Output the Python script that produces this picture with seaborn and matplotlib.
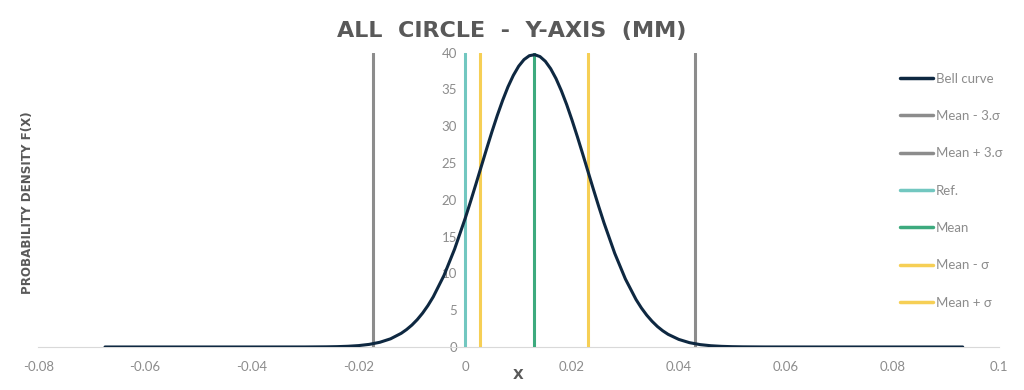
import numpy as np
import pandas as pd
import matplotlib
matplotlib.use('Agg')
import matplotlib.pyplot as plt
import seaborn as sns

# ── Data ───────────────────────────────────────────────
curve_x = [-0.0675, -0.04, -0.03, -0.026, -0.024, -0.022, -0.020, -0.018,
           -0.016, -0.014, -0.012, -0.011, -0.010, -0.009, -0.008, -0.007,
           -0.006, -0.004, -0.002, 0.000, 0.001, 0.002, 0.003, 0.004, 0.005,
           0.006, 0.007, 0.008, 0.009, 0.010, 0.011, 0.012, 0.013, 0.014,
           0.015, 0.016, 0.017, 0.018, 0.019, 0.020, 0.021, 0.022, 0.023,
           0.024, 0.025, 0.026, 0.028, 0.030, 0.032, 0.033, 0.034, 0.035,
           0.036, 0.037, 0.038, 0.040, 0.042, 0.044, 0.046, 0.048, 0.050,
           0.052, 0.056, 0.066, 0.0932]
curve_y = [0.0, 0.0, 0.004, 0.022, 0.047, 0.096, 0.188, 0.354,
           0.641, 1.11, 1.86, 2.37, 2.98, 3.72, 4.60, 5.63,
           6.82, 9.71, 13.31, 17.52, 19.80, 22.16, 24.55, 26.94, 29.27,
           31.48, 33.52, 35.36, 36.91, 38.16, 39.06, 39.59, 39.73, 39.47,
           38.83, 37.82, 36.48, 34.83, 32.94, 30.83, 28.58, 26.23, 23.83,
           21.44, 19.10, 16.85, 12.73, 9.24, 6.44, 5.30, 4.32, 3.49,
           2.78, 2.20, 1.72, 1.03, 0.587, 0.323, 0.171, 0.087, 0.042,
           0.020, 0.004, 0.0, 0.0]

line_names  = ['Mean - 3.σ', 'Mean + 3.σ', 'Ref.', 'Mean', 'Mean - σ', 'Mean + σ']
line_x      = [-0.01735, 0.04298, 0.0, 0.01285, 0.00275, 0.02293]
line_top    = 40
line_colors = ['#8c8c8c', '#8c8c8c', '#72c7c0', '#3daa7e', '#f6cf55', '#f6cf55']

x_ticks = [-0.08, -0.06, -0.04, -0.02, 0, 0.02, 0.04, 0.06, 0.08, 0.1]
x_tick_labels = ['-0.08', '-0.06', '-0.04', '-0.02', '0', '0.02', '0.04', '0.06', '0.08', '0.1']
y_ticks = [0, 5, 10, 15, 20, 25, 30, 35, 40]

# ── Style ──────────────────────────────────────────────
sns.set_style('white')
plt.rcParams['font.family'] = ['Lato', 'DejaVu Sans']
bold_font = ['DejaVu Sans']

fig = plt.figure(figsize=(10.24, 3.90), dpi=100)
ax = fig.add_axes([0.0374, 0.1103, 0.9382, 0.7546])

df = pd.DataFrame({'x': curve_x, 'y': curve_y})
sns.lineplot(data=df, x='x', y='y', ax=ax, color='#0e2841', lw=2.2,
             estimator=None, sort=False, label='Bell curve', zorder=5)
ax.get_lines()[0].set_solid_joinstyle('round')

for name, xv, col in zip(line_names, line_x, line_colors):
    ax.plot([xv, xv], [0, line_top], color=col, lw=2.2, label=name, zorder=4)

ax.set_xlim(-0.08, 0.1)
ax.set_ylim(0, 40)
ax.set_xticks(x_ticks)
ax.set_xticklabels(x_tick_labels)
ax.set_yticks(y_ticks)

for s in ['top', 'right']:
    ax.spines[s].set_visible(False)
ax.spines['left'].set_position(('data', 0))
ax.spines['left'].set_color('#d9d9d9')
ax.spines['bottom'].set_color('#d9d9d9')
ax.tick_params(axis='x', colors='#8c8c8c', labelsize=9.5, length=4,
               color='#d9d9d9', direction='out', pad=6)
ax.tick_params(axis='y', colors='#8c8c8c', labelsize=9.5, length=4,
               color='#d9d9d9', direction='out', pad=2)

ax.set_xlabel('')
ax.set_ylabel('')
fig.text(0.506, 0.038, 'X', ha='center', va='center', fontsize=10,
         fontweight='bold', color='#595959', family=bold_font)
fig.text(0.027, 0.48, 'PROBABILITY DENSITY F(X)', rotation=90, ha='center',
         va='center', fontsize=8.6, fontweight='bold', color='#595959',
         family=bold_font)
fig.text(0.5, 0.921, 'ALL  CIRCLE  -  Y-AXIS  (MM)', ha='center', va='center',
         fontsize=16, fontweight='bold', color='#595959', family=bold_font)

leg = ax.legend(loc='upper left', bbox_to_anchor=(0.8915, 0.95), frameon=False,
                fontsize=9.5, labelspacing=1.92, handlelength=2.5,
                handletextpad=0.2, borderaxespad=0)
for t in leg.get_texts():
    t.set_color('#8c8c8c')
for h in leg.get_lines():
    h.set_linewidth(2.5)

fig.savefig('out.png', dpi=100)
